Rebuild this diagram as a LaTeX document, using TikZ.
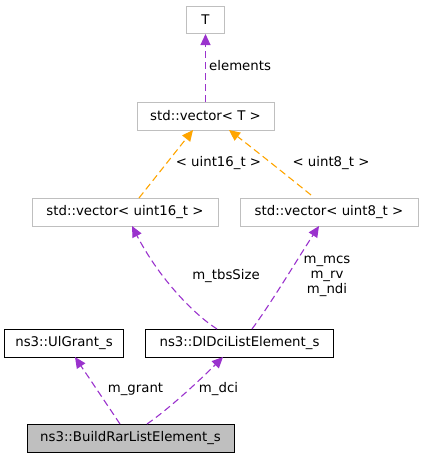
\documentclass[tikz,border=0pt]{standalone}
\usepackage{fontspec}
\setmainfont{DejaVu Sans}
\usetikzlibrary{arrows.meta}
\definecolor{edgepurple}{HTML}{9A32CD}
\definecolor{edgeorange}{HTML}{FFA500}
\definecolor{boxgray}{HTML}{BFBFBF}
\begin{document}
\begin{tikzpicture}[x=1pt,y=-1pt,
  cls/.style={draw=black,line width=1pt,inner sep=0pt,font=\fontsize{13.3}{16}\selectfont},
  ext/.style={draw=boxgray,line width=1pt,inner sep=0pt,font=\fontsize{13.3}{16}\selectfont},
  cur/.style={draw=black,fill=boxgray,line width=1pt,inner sep=0pt,font=\fontsize{13.3}{16}\selectfont},
  pusage/.style={draw=edgepurple,dash pattern=on 7pt off 4pt,line width=1.1pt,-{Triangle[length=11pt,width=10pt]},color=edgepurple},
  tusage/.style={draw=edgeorange,dash pattern=on 7pt off 4pt,line width=1.1pt,-{Triangle[length=11pt,width=10pt]},color=edgeorange},
  lab/.style={font=\fontsize{13.3}{16}\selectfont,inner sep=0pt,text=black,align=center}]
\useasboundingbox (0,0) rectangle (423,459);
\node[ext,minimum width=38pt,minimum height=27pt] (T) at (205.5,20) {T};
\node[ext,minimum width=137pt,minimum height=28pt] (vT) at (205.5,116) {std::vector< T >};
\node[ext,minimum width=186pt,minimum height=28pt] (v16) at (125,212) {std::vector< uint16\_t >};
\node[ext,minimum width=178pt,minimum height=28pt] (v8) at (329,212) {std::vector< uint8\_t >};
\node[cls,minimum width=119pt,minimum height=28pt] (ul) at (64,343) {ns3::UlGrant\_s};
\node[cls,minimum width=188pt,minimum height=28pt] (dl) at (239.5,343) {ns3::DlDciListElement\_s};
\node[cur,minimum width=207pt,minimum height=28pt] (br) at (130.5,438) {ns3::BuildRarListElement\_s};
\coordinate (vTb) at (205.5,102);
\draw[pusage] (vTb) -- (T.south);
\node[lab,anchor=west] (le) at (209,66) {elements};
\coordinate (v16t) at (139,198);
\coordinate (vTl) at (193,130);
\draw[tusage] (v16t) -- (vTl);
\node[lab] (l16) at (218.5,163) {< uint16\_t >};
\coordinate (v8t) at (311,195);
\coordinate (vTr) at (229,130);
\draw[tusage] (v8t) .. controls (290,178) and (255,150) .. (vTr);
\node[lab] (l8) at (331,163) {< uint8\_t >};
\coordinate (dlA) at (217,329);
\coordinate (v16b) at (132,226);
\draw[pusage] (dlA) .. controls (195,315) and (160,280) .. (v16b);
\node[lab] (ltbs) at (226,276) {m\_tbsSize};
\coordinate (dlB) at (252,329);
\coordinate (v8b) at (319,226);
\draw[pusage] (dlB) .. controls (270,305) and (300,255) .. (v8b);
\node[lab] (lmcs) at (327,276) {m\_mcs\\[-1pt]m\_rv\\[-1pt]m\_ndi};
\coordinate (brA) at (120,424);
\coordinate (ulb) at (75,357);
\draw[pusage] (brA) -- (ulb);
\node[lab] (lg) at (135.5,389) {m\_grant};
\coordinate (brB) at (147,424);
\coordinate (dlb) at (223,357);
\draw[pusage] (brB) .. controls (170,408) and (200,380) .. (dlb);
\node[lab] (ld) at (218.5,389) {m\_dci};
\end{tikzpicture}
\end{document}
